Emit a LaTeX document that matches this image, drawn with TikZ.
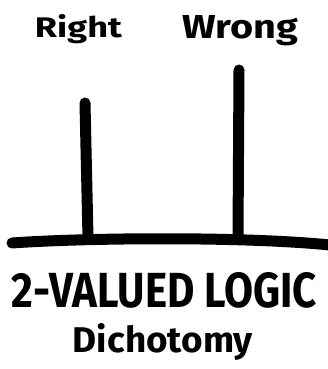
\documentclass[tikz,border=0pt]{standalone}
\usepackage{fontspec}
\setmainfont{Fira Sans}
\begin{document}
\begin{tikzpicture}[x=1pt,y=-1pt,
  stroke/.style={line width=11pt,line cap=round,black},
  label/.style={font=\bfseries, inner sep=0pt, anchor=base}]
\useasboundingbox (0,0) rectangle (328,369);
\node[label] (right) at (78.5,38) {\resizebox{87pt}{23pt}{Right}};
\node[label] (wrong) at (240,38) {\resizebox{116pt}{23pt}{Wrong}};
\coordinate (gl) at (12,243);
\coordinate (gr) at (330,245);
\coordinate (pl) at (88,238);
\coordinate (pr) at (238,238);
\coordinate (tl) at (85,103);
\coordinate (tr) at (239,70);
\draw[stroke] (gl) .. controls (80,238) and (240,236) .. (gr);
\draw[stroke] (pl) -- (tl);
\draw[stroke] (pr) -- (tr);
\node[label] (title) at (164.5,307) {\resizebox{305pt}{35pt}{2-VALUED LOGIC}};
\node[label] (sub) at (163,352) {\resizebox{180pt}{29pt}{Dichotomy}};
\end{tikzpicture}
\end{document}
